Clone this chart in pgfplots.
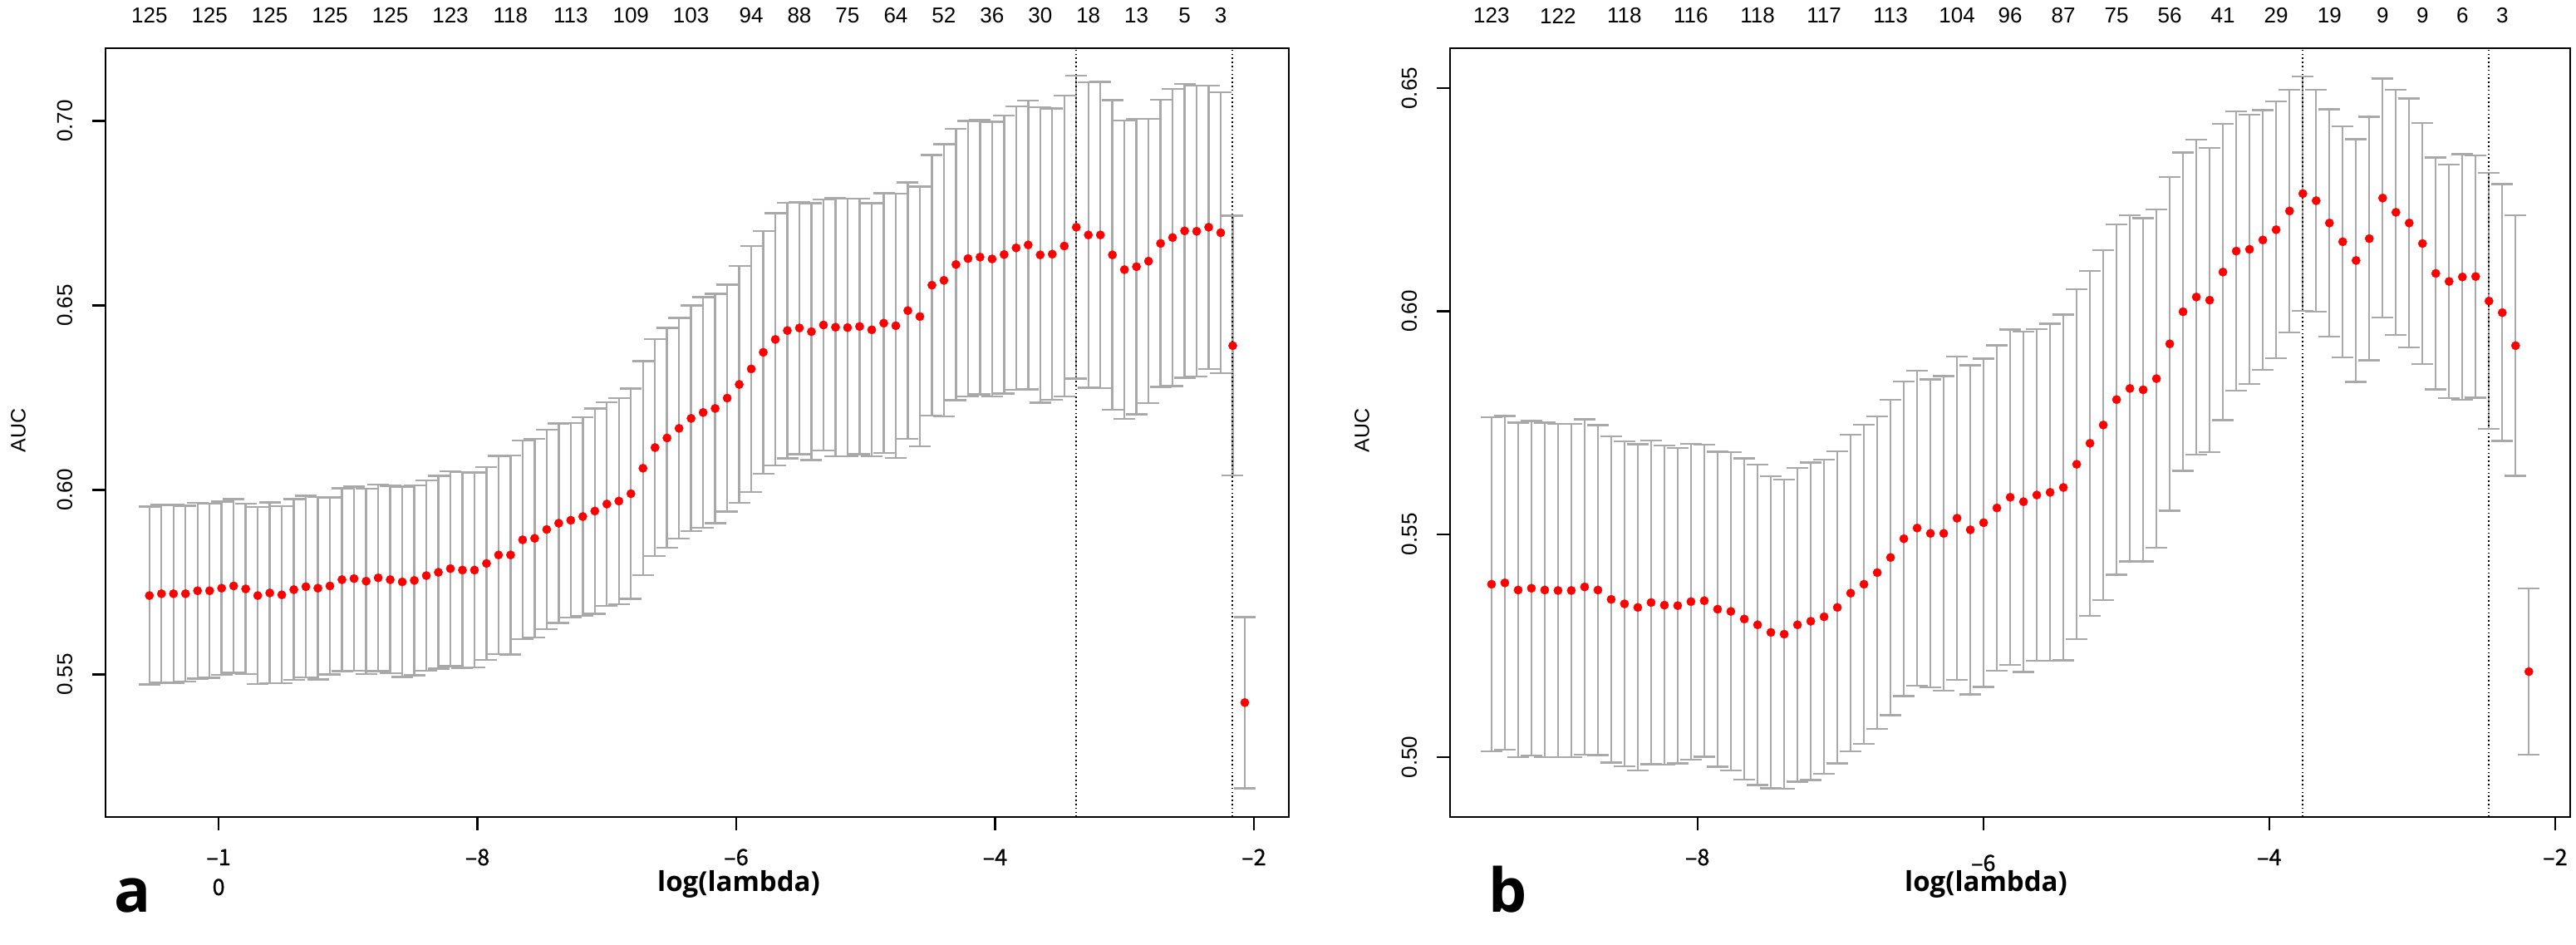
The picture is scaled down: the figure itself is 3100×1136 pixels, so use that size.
\documentclass[border=0pt]{standalone}
\usepackage{fontspec}
\usepackage{pgfplots}
\pgfplotsset{compat=1.18}
\usepackage{pgfplotstable}
\newfontfamily\rfont{Liberation Sans}
\newfontfamily\cjk[FakeBold=0.8]{Noto Sans CJK SC}
\newfontfamily\labfont{Open Sans}
\definecolor{bargray}{HTML}{A9A9A9}

\pgfplotstableread{
x y e
-10.535 0.5714 0.0241
-10.442 0.5719 0.0241
-10.349 0.5719 0.0241
-10.256 0.5719 0.0238
-10.163 0.5727 0.0238
-10.070 0.5727 0.0236
-9.977 0.5734 0.0235
-9.884 0.5740 0.0235
-9.791 0.5732 0.0231
-9.698 0.5714 0.0240
-9.605 0.5721 0.0245
-9.512 0.5716 0.0240
-9.419 0.5730 0.0245
-9.326 0.5738 0.0246
-9.233 0.5734 0.0247
-9.140 0.5740 0.0240
-9.047 0.5757 0.0248
-8.954 0.5760 0.0249
-8.860 0.5753 0.0251
-8.767 0.5762 0.0253
-8.674 0.5757 0.0254
-8.581 0.5751 0.0258
-8.488 0.5755 0.0257
-8.395 0.5768 0.0258
-8.302 0.5777 0.0261
-8.209 0.5787 0.0264
-8.116 0.5783 0.0265
-8.023 0.5783 0.0264
-7.930 0.5801 0.0261
-7.837 0.5824 0.0268
-7.744 0.5824 0.0270
-7.651 0.5865 0.0269
-7.558 0.5869 0.0269
-7.465 0.5893 0.0270
-7.372 0.5910 0.0270
-7.279 0.5918 0.0264
-7.186 0.5928 0.0269
-7.093 0.5943 0.0278
-7.000 0.5962 0.0276
-6.907 0.5970 0.0279
-6.814 0.5990 0.0285
-6.721 0.6059 0.0290
-6.628 0.6115 0.0294
-6.535 0.6141 0.0298
-6.442 0.6167 0.0299
-6.349 0.6194 0.0306
-6.256 0.6210 0.0313
-6.163 0.6221 0.0311
-6.070 0.6249 0.0307
-5.977 0.6286 0.0321
-5.884 0.6328 0.0333
-5.791 0.6373 0.0329
-5.698 0.6408 0.0342
-5.605 0.6432 0.0346
-5.512 0.6439 0.0342
-5.419 0.6429 0.0348
-5.326 0.6447 0.0340
-5.233 0.6441 0.0350
-5.140 0.6440 0.0349
-5.047 0.6443 0.0346
-4.953 0.6434 0.0343
-4.860 0.6452 0.0352
-4.767 0.6445 0.0358
-4.674 0.6486 0.0347
-4.581 0.6470 0.0352
-4.488 0.6555 0.0353
-4.395 0.6568 0.0369
-4.302 0.6611 0.0368
-4.209 0.6627 0.0373
-4.116 0.6631 0.0372
-4.023 0.6626 0.0372
-3.930 0.6638 0.0377
-3.837 0.6656 0.0384
-3.744 0.6664 0.0391
-3.651 0.6637 0.0400
-3.558 0.6639 0.0395
-3.465 0.6661 0.0408
-3.372 0.6712 0.0410
-3.279 0.6691 0.0414
-3.186 0.6691 0.0415
-3.093 0.6637 0.0419
-3.000 0.6597 0.0404
-2.907 0.6605 0.0400
-2.814 0.6620 0.0385
-2.721 0.6668 0.0389
-2.628 0.6684 0.0402
-2.535 0.6702 0.0398
-2.442 0.6701 0.0394
-2.349 0.6712 0.0384
-2.256 0.6697 0.0380
-2.163 0.6391 0.0352
-2.070 0.5424 0.0232
}\dataA

\pgfplotstableread{
x y e
-9.440 0.5388 0.0375
-9.347 0.5391 0.0374
-9.254 0.5375 0.0375
-9.161 0.5379 0.0375
-9.068 0.5375 0.0375
-8.975 0.5374 0.0374
-8.882 0.5374 0.0374
-8.789 0.5382 0.0376
-8.696 0.5375 0.0370
-8.603 0.5354 0.0366
-8.510 0.5344 0.0364
-8.417 0.5336 0.0366
-8.324 0.5347 0.0363
-8.231 0.5341 0.0358
-8.138 0.5340 0.0354
-8.045 0.5349 0.0354
-7.952 0.5351 0.0350
-7.859 0.5332 0.0353
-7.766 0.5327 0.0357
-7.672 0.5310 0.0360
-7.579 0.5297 0.0359
-7.486 0.5280 0.0350
-7.393 0.5276 0.0347
-7.300 0.5297 0.0352
-7.207 0.5305 0.0356
-7.114 0.5315 0.0352
-7.021 0.5336 0.0350
-6.928 0.5368 0.0355
-6.835 0.5388 0.0358
-6.742 0.5414 0.0350
-6.649 0.5448 0.0354
-6.556 0.5490 0.0353
-6.463 0.5514 0.0353
-6.370 0.5502 0.0345
-6.277 0.5502 0.0353
-6.184 0.5536 0.0362
-6.091 0.5510 0.0369
-5.998 0.5526 0.0368
-5.905 0.5559 0.0365
-5.812 0.5583 0.0376
-5.719 0.5573 0.0382
-5.626 0.5588 0.0372
-5.533 0.5594 0.0378
-5.440 0.5605 0.0388
-5.347 0.5657 0.0392
-5.254 0.5704 0.0387
-5.161 0.5745 0.0392
-5.068 0.5802 0.0393
-4.975 0.5827 0.0388
-4.882 0.5824 0.0385
-4.789 0.5849 0.0379
-4.696 0.5927 0.0374
-4.603 0.5999 0.0357
-4.510 0.6032 0.0353
-4.417 0.6025 0.0341
-4.324 0.6088 0.0332
-4.231 0.6135 0.0313
-4.138 0.6139 0.0302
-4.045 0.6160 0.0291
-3.952 0.6183 0.0288
-3.858 0.6225 0.0272
-3.765 0.6264 0.0263
-3.672 0.6248 0.0249
-3.579 0.6198 0.0255
-3.486 0.6156 0.0259
-3.393 0.6114 0.0272
-3.300 0.6163 0.0273
-3.207 0.6254 0.0268
-3.114 0.6222 0.0275
-3.021 0.6198 0.0279
-2.928 0.6152 0.0270
-2.835 0.6085 0.0260
-2.742 0.6067 0.0262
-2.649 0.6077 0.0275
-2.556 0.6078 0.0272
-2.463 0.6023 0.0287
-2.370 0.5997 0.0288
-2.277 0.5923 0.0292
-2.184 0.5192 0.0186
}\dataB

\pgfplotsset{
  cvbox/.style={
    scale only axis, anchor=south west,
    axis line style={line width=2.2pt},
    tick align=outside, major tick length=16pt,
    every tick/.style={black, line width=2.2pt},
    tick pos=left,
    xticklabel style={font=\cjk\fontsize{27}{36}\selectfont, anchor=base, yshift=-42pt, align=center},
    yticklabel style={font=\rfont\fontsize{26}{30}\selectfont, xshift=-33pt, rotate=90, anchor=center},
  },
  cvtop/.style={
    scale only axis, anchor=south west,
    ymin=0, ymax=1, hide y axis, axis x line*=top,
    axis line style={draw=none}, major tick length=0pt,
    xticklabel style={font=\rfont\fontsize{26}{30}\selectfont, anchor=center, yshift=39pt},
  },
  cvbar/.style={
    only marks, mark=none,
    error bars/.cd, y dir=both, y explicit, error mark=none,
    error bar style={line width=2.4pt, bargray},
  },
  cvcap/.style={
    only marks, mark=-, mark size=13pt, color=bargray,
    mark options={line width=2.4pt, draw=bargray},
  },
  cvpts/.style={
    only marks, mark=*, mark size=5.1pt, color=red, mark options={fill=red, draw=red},
  },
  cvline/.style={black, line width=2pt, dash pattern=on 1.6pt off 3.2pt},
}

\begin{document}
\begin{tikzpicture}
\path[use as bounding box] (0pt,0pt) rectangle (3100pt,1136pt);

% ---------------- panel a ----------------
\begin{axis}[cvbox, at={(127pt,153pt)}, width=1424pt, height=925pt,
  xmin=-10.874, xmax=-1.729, ymin=0.5114, ymax=0.7197,
  xtick={-10,-8,-6,-4,-2},
  xticklabels={{\begin{tabular}[t]{@{}c@{}}–1\\[0pt]0\end{tabular}},–8,–6,–4,–2},
  ytick={0.55,0.60,0.65,0.70}, yticklabels={0.55,0.60,0.65,0.70}]
\addplot[cvbar] table[x=x, y=y, y error=e] {\dataA};
\addplot[cvcap] table[x=x, y expr=\thisrow{y}+\thisrow{e}] {\dataA};
\addplot[cvcap] table[x=x, y expr=\thisrow{y}-\thisrow{e}] {\dataA};
\addplot[cvline] coordinates {(-3.372,0.5114) (-3.372,0.7197)};
\addplot[cvline] coordinates {(-2.163,0.5114) (-2.163,0.7197)};
\addplot[cvpts] table[x=x, y=y] {\dataA};
\end{axis}
\begin{axis}[cvtop, at={(127pt,153pt)}, width=1424pt, height=925pt,
  xmin=-10.874, xmax=-1.729,
  xtick={-10.535,-10.070,-9.605,-9.140,-8.674,-8.209,-7.744,-7.279,-6.814,-6.349,-5.884,-5.512,-5.140,-4.767,-4.395,-4.023,-3.651,-3.279,-2.907,-2.535,-2.256},
  xticklabels={125,125,125,125,125,123,118,113,109,103,94,88,75,64,52,36,30,18,13,5,3}]
\end{axis}

% ---------------- panel b ----------------
\begin{axis}[cvbox, at={(1745pt,153pt)}, width=1348pt, height=925pt,
  xmin=-9.730, xmax=-1.895, ymin=0.4866, ymax=0.6590,
  xtick={-8,-6,-4,-2},
  xticklabels={–8,\raisebox{-7pt}{–6},–4,–2},
  ytick={0.50,0.55,0.60,0.65}, yticklabels={0.50,0.55,0.60,0.65}]
\addplot[cvbar] table[x=x, y=y, y error=e] {\dataB};
\addplot[cvcap] table[x=x, y expr=\thisrow{y}+\thisrow{e}] {\dataB};
\addplot[cvcap] table[x=x, y expr=\thisrow{y}-\thisrow{e}] {\dataB};
\addplot[cvline] coordinates {(-3.765,0.4866) (-3.765,0.6590)};
\addplot[cvline] coordinates {(-2.463,0.4866) (-2.463,0.6590)};
\addplot[cvpts] table[x=x, y=y] {\dataB};
\end{axis}
\begin{axis}[cvtop, at={(1745pt,153pt)}, width=1348pt, height=925pt,
  xmin=-9.730, xmax=-1.895,
  xtick={-9.440,-8.975,-8.510,-8.045,-7.579,-7.114,-6.649,-6.184,-5.812,-5.440,-5.068,-4.696,-4.324,-3.952,-3.579,-3.207,-2.928,-2.649,-2.370},
  xticklabels={123,122,118,116,118,117,113,104,96,87,75,56,41,29,19,9,9,6,3}]
\end{axis}

% ---------------- axis titles and panel letters ----------------
\node[font=\rfont\fontsize{25}{30}\selectfont, rotate=90, anchor=center] at (22pt,618pt) {AUC};
\node[font=\rfont\fontsize{25}{30}\selectfont, rotate=90, anchor=center] at (1639pt,618pt) {AUC};
\node[font=\labfont\bfseries\fontsize{33}{38}\selectfont, anchor=base, inner sep=0pt]
  at (889pt,64pt) {log(lambda)};
\node[font=\labfont\bfseries\fontsize{33}{38}\selectfont, anchor=base, inner sep=0pt]
  at (2390pt,64pt) {log(lambda)};
\node[font=\labfont\bfseries\fontsize{73}{80}\selectfont, anchor=base, inner sep=0pt]
  at (160pt,39pt) {a};
\node[font=\labfont\bfseries\fontsize{73}{80}\selectfont, anchor=base, inner sep=0pt]
  at (1815pt,39pt) {b};
\end{tikzpicture}
\end{document}
